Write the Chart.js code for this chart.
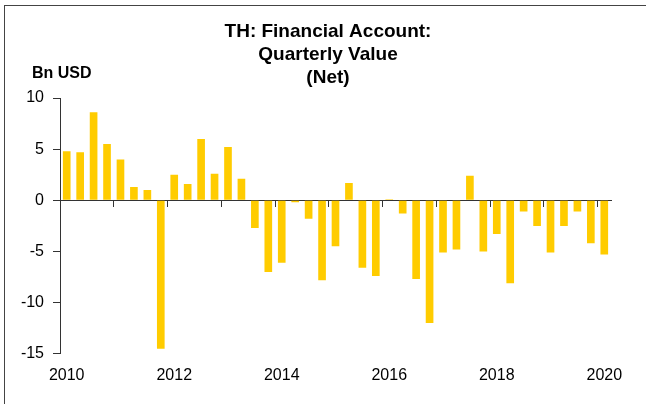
<!DOCTYPE html>
<html>
<head>
<meta charset="utf-8">
<script src="https://cdn.jsdelivr.net/npm/chart.js@4.4.1/dist/chart.umd.min.js"></script>
<style>
  html, body { margin: 0; padding: 0; background: #fff; }
  #wrap { position: relative; width: 646px; height: 404px; }
  #frame {
    position: absolute; left: 4px; top: 5px; right: 0; bottom: 0;
    border-top: 1px solid #444; border-left: 1px solid #444;
    pointer-events: none;
  }
</style>
</head>
<body>
<div id="wrap">
  <canvas id="chart" width="646" height="404"></canvas>
  <div id="frame"></div>
</div>
<script>
// data
const titleLines = ["TH: Financial Account:", "Quarterly Value", "(Net)"];
const unitLabel = "Bn USD";

const quarters = [
  "2010Q1", "2010Q2", "2010Q3", "2010Q4",
  "2011Q1", "2011Q2", "2011Q3", "2011Q4",
  "2012Q1", "2012Q2", "2012Q3", "2012Q4",
  "2013Q1", "2013Q2", "2013Q3", "2013Q4",
  "2014Q1", "2014Q2", "2014Q3", "2014Q4",
  "2015Q1", "2015Q2", "2015Q3", "2015Q4",
  "2016Q1", "2016Q2", "2016Q3", "2016Q4",
  "2017Q1", "2017Q2", "2017Q3", "2017Q4",
  "2018Q1", "2018Q2", "2018Q3", "2018Q4",
  "2019Q1", "2019Q2", "2019Q3", "2019Q4",
  "2020Q1"
];

const netValues = [
  4.8, 4.7, 8.6, 5.5,
  4.0, 1.3, 1.0, -14.5,
  2.5, 1.6, 6.0, 2.6,
  5.2, 2.1, -2.7, -7.0,
  -6.1, -0.2, -1.8, -7.8,
  -4.5, 1.7, -6.6, -7.4,
  0.1, -1.3, -7.7, -12.0,
  -5.1, -4.8, 2.4, -5.0,
  -3.3, -8.1, -1.1, -2.5,
  -5.1, -2.5, -1.1, -4.2,
  -5.3
];

// labelled years on the bottom axis
const yearLabels = ["2010", "2012", "2014", "2016", "2018", "2020"];

const axisColor = "#333";
const barColor = "#FFCC00";

Chart.defaults.font.family = '"Liberation Sans", Arial, sans-serif';
Chart.defaults.color = "#000";

// title + unit label drawn on the canvas
const headerText = {
  id: "headerText",
  afterDraw(chart) {
    const ctx = chart.ctx;
    ctx.save();
    ctx.fillStyle = "#000";
    ctx.textBaseline = "alphabetic";
    ctx.font = 'bold 19px "Liberation Sans", Arial, sans-serif';
    ctx.textAlign = "center";
    for (let i = 0; i < titleLines.length; i++) {
      ctx.fillText(titleLines[i], 328, 37 + i * 23);
    }
    ctx.font = 'bold 16px "Liberation Sans", Arial, sans-serif';
    ctx.textAlign = "left";
    ctx.fillText(unitLabel, 32, 78);
    ctx.restore();
  }
};

function isYearStart(i) {
  const q = quarters[i];
  return q !== undefined && q.endsWith("Q1");
}

const ctx = document.getElementById("chart").getContext("2d");
new Chart(ctx, {
  type: "bar",
  data: {
    labels: quarters,
    datasets: [{
      data: netValues,
      backgroundColor: barColor,
      borderWidth: 0,
      barPercentage: 0.57,
      categoryPercentage: 1.0
    }]
  },
  options: {
    responsive: false,
    animation: false,
    layout: { padding: { top: 98, right: 35, bottom: 7, left: 0 } },
    plugins: {
      legend: { display: false },
      tooltip: { enabled: false },
      title: { display: false }
    },
    scales: {
      x: {
        type: "category",
        position: "bottom",
        offset: true,
        border: { display: false },
        grid: { display: false, drawTicks: false },
        ticks: {
          autoSkip: false,
          maxRotation: 0,
          padding: 12,
          font: { size: 16 },
          callback: function (value, index) {
            const year = quarters[index].slice(0, 4);
            return isYearStart(index) && yearLabels.includes(year) ? year : "";
          }
        }
      },
      x2: {
        type: "category",
        position: { y: 0 },
        offset: true,
        border: { display: true, color: axisColor, width: 1 },
        grid: {
          offset: true,
          drawOnChartArea: false,
          drawTicks: true,
          tickLength: 6,
          color: (c) => (isYearStart(c.index) && c.index > 0 ? axisColor : "rgba(0,0,0,0)")
        },
        ticks: { display: false }
      },
      y: {
        min: -15,
        max: 10,
        border: { display: true, color: axisColor, width: 1 },
        grid: {
          drawOnChartArea: false,
          drawTicks: true,
          tickLength: 7,
          color: axisColor
        },
        ticks: {
          stepSize: 5,
          padding: 9,
          font: { size: 16 }
        },
        afterFit: function (scale) {
          scale.width = 60;
        }
      }
    }
  },
  plugins: [headerText]
});
</script>
</body>
</html>
